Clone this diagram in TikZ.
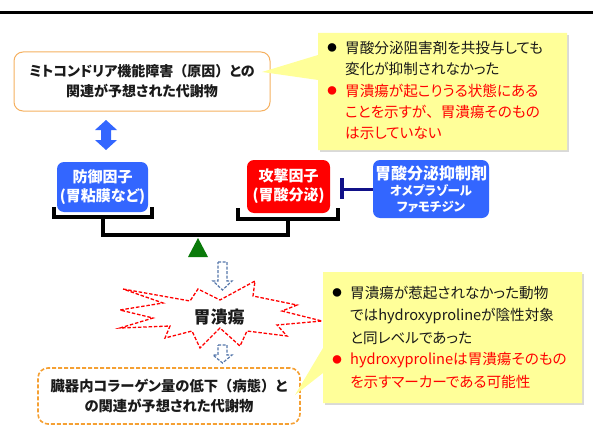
\documentclass[tikz,border=0pt]{standalone}
\usepackage{fontspec}
\setmainfont{Noto Sans CJK JP}[RawFeature={+palt}]
\newfontfamily\jpfw{Noto Sans CJK JP}
\newcommand\fwch[1]{{\jpfw #1}}
\definecolor{cyel}{HTML}{FFFF99}
\definecolor{cblue}{HTML}{3366FF}
\definecolor{cred}{HTML}{FF0000}
\definecolor{corange}{HTML}{F5B060}
\definecolor{cdorange}{HTML}{F5A033}
\definecolor{cnavy}{HTML}{111188}
\definecolor{cgreen}{HTML}{0A7A0A}
\definecolor{carrow}{HTML}{5577AA}
\definecolor{ctext}{HTML}{1A1A1A}
\begin{document}
\begin{tikzpicture}[x=1pt,y=-1pt,
  bx/.style={rounded corners=7pt, inner sep=0pt, align=center, text=white, font=\bfseries\fontsize{15}{19}\selectfont},
  brk/.style={line width=3.5pt, black},
  callout/.style={fill=cyel, draw=none},
  shadowc/.style={fill=black!15, draw=none},
  ln/.style={anchor=west, inner sep=0pt, font=\fontsize{14.6}{16}\selectfont, text=ctext},
  lnr/.style={ln, text=cred},
  bul/.style={anchor=center, inner sep=0pt, font=\fontsize{9.5}{10}\selectfont},
  harrow/.style={draw=carrow, line width=1.2pt, dash pattern=on 3pt off 1.5pt, fill=white}
]
\useasboundingbox (0,0) rectangle (593,425);
\draw[line width=3pt] (0,13) -- (593,13);

% top-left box
\node[draw=corange, line width=1pt, rounded corners=9pt, minimum width=256pt, minimum height=59pt, align=center,
  font=\bfseries\fontsize{14}{20}\selectfont, text=ctext] (mito) at (142,81.5)
  {ミトコンドリア機能障害\fwch{（}原因\fwch{）}との\\関連が予想された代謝物};

% callout 1
\coordinate (tip1) at (262,72);
\fill[shadowc] (320,35) rectangle (569,152);
\path[callout] (318,33) -- (567,33) -- (567,150) -- (318,150) -- (318,80) -- (tip1) -- (318,55) -- cycle;
\node[bul] (b1) at (332,48) {●};
\node[ln] (t1a) at (345,48) {胃酸分泌阻害剤を共投与しても};
\node[ln] (t1b) at (345,69) {変化が抑制されなかった};
\node[bul, text=cred] (b2) at (332,91) {●};
\node[lnr] (t1c) at (345,91) {胃潰瘍が起こりうる状態にある};
\node[lnr] (t1d) at (345,112) {ことを示すが\fwch{、}胃潰瘍そのもの};
\node[lnr] (t1e) at (345,133) {は示していない};

% blue double arrow
\fill[cblue] (106,120) -- (117,130) -- (111,130) -- (111,140) -- (117,140) -- (106,150)
  -- (95,140) -- (101,140) -- (101,130) -- (95,130) -- cycle;

% factor boxes
\node[bx, fill=cblue, minimum width=91pt, minimum height=50pt] (def) at (102.5,187) {防御因子\\(胃粘膜など)};
\node[bx, fill=cred, minimum width=83pt, minimum height=53pt] (att) at (288.5,186.5) {攻撃因子\\(胃酸分泌)};
\node[bx, fill=cblue, minimum width=116pt, minimum height=58pt, font=\bfseries\fontsize{16}{17}\selectfont] (inh) at (431,189)
  {胃酸分泌抑制剤\\[-1pt]{\fontsize{12.5}{17}\selectfont オメプラゾール}\\[-1pt]{\fontsize{12.5}{17}\selectfont ファモチジン}};

% brackets and beam
\coordinate (bl1) at (54,207); \coordinate (bl2) at (54,217); \coordinate (bl3) at (152,217); \coordinate (bl4) at (152,207);
\coordinate (br1) at (238,208); \coordinate (br2) at (238,219); \coordinate (br3) at (338,219); \coordinate (br4) at (338,208);
\coordinate (stemL) at (103,235); \coordinate (stemR) at (288,235);
\draw[brk] (bl1) -- (bl2) -- (bl3) -- (bl4);
\draw[brk] (br1) -- (br2) -- (br3) -- (br4);
\draw[brk] (103,217) -- (stemL) -- (stemR) -- (288,219);
\fill[cgreen] (188,257) -- (198,238) -- (208,257) -- cycle;

% inhibition
\coordinate (tbar) at (342,189);
\draw[cnavy, line width=3pt] (inh.west) -- (tbar);
\draw[cnavy, line width=3.5pt] (342,178) -- (342,199);

% hollow arrows
\draw[harrow] (218,262) -- (227,262) -- (227,281) -- (232,281) -- (222.5,290) -- (213,281) -- (218,281) -- cycle;
\draw[harrow] (218,345) -- (227,345) -- (227,355) -- (232,355) -- (222.5,363) -- (213,355) -- (218,355) -- cycle;

% starburst
\draw[cred, line width=1.3pt, dash pattern=on 3.5pt off 1.8pt, line join=miter]
  (123,289) -- (190,301) -- (198,289) -- (220,300) -- (255,281) -- (253,296) -- (297,305) -- (282,311)
  -- (322,321) -- (277,325) -- (287,336) -- (247,331) -- (240,346) -- (220,328) -- (200,348) -- (192,331)
  -- (165,338) -- (170,326) -- (120,328) -- (153,318) -- (120,310) -- (163,303) -- cycle;
\node[font=\bfseries\fontsize{17}{19}\selectfont, text=ctext] (ulcer) at (219,317) {胃潰瘍};

% bottom box
\node[draw=cdorange, line width=1.6pt, dash pattern=on 4pt off 2pt, rounded corners=10pt, minimum width=262pt, minimum height=56pt,
  align=center, font=\bfseries\fontsize{14.3}{20}\selectfont, text=ctext] (coll) at (169,396)
  {臓器内コラーゲン量の低下\fwch{（}病態\fwch{）}と\\の関連が予想された代謝物};

% callout 2
\coordinate (tip2) at (295,395);
\fill[shadowc] (325,274) rectangle (584,405);
\path[callout] (323,272) -- (582,272) -- (582,403) -- (323,403) -- (323,373) -- (tip2) -- (323,348) -- cycle;
\node[bul] (b3) at (337,293) {●};
\node[ln] (t2a) at (350,293) {胃潰瘍が惹起されなかった動物};
\node[ln] (t2b) at (350,316) {ではhydroxyprolineが陰性対象};
\node[ln] (t2c) at (350,338) {と同レベルであった};
\node[bul, text=cred] (b4) at (337,360) {●};
\node[lnr] (t2d) at (350,360) {hydroxyprolineは胃潰瘍そのもの};
\node[lnr] (t2e) at (350,382) {を示すマーカーである可能性};
\end{tikzpicture}
\end{document}
